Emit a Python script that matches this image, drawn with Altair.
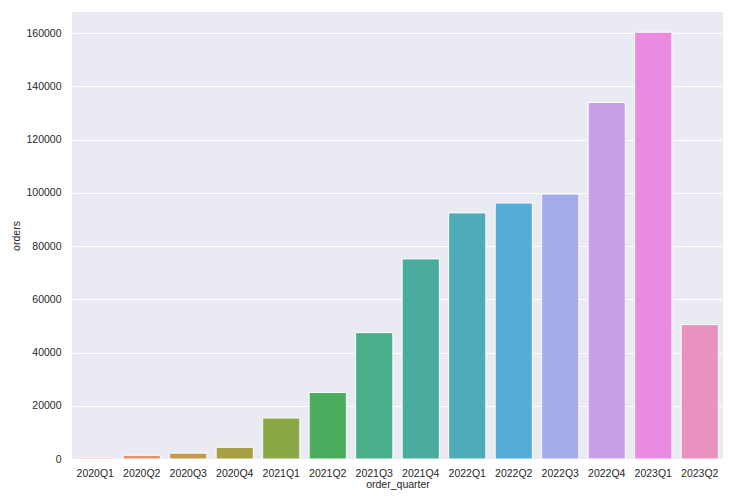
import altair as alt
import pandas as pd

quarters = ["2020Q1", "2020Q2", "2020Q3", "2020Q4", "2021Q1", "2021Q2", "2021Q3",
            "2021Q4", "2022Q1", "2022Q2", "2022Q3", "2022Q4", "2023Q1", "2023Q2"]
orders = [400, 1400, 2200, 4400, 15400, 25000, 47500,
          75200, 92500, 96200, 99600, 134000, 160400, 50500]
colors = ["#e68294", "#e0936c", "#c49a48", "#a89e43", "#8aa846", "#4bae5f", "#4aae8b",
          "#4aab9f", "#4eabb8", "#55acd6", "#a2ade9", "#c8a0e8", "#ea8ae0", "#e991bf"]

df = pd.DataFrame({"order_quarter": quarters, "orders": orders})

font = "Liberation Sans"
fs = 10.5

chart = alt.Chart(df).mark_bar(stroke="white", strokeWidth=1).encode(
    x=alt.X("order_quarter:N", sort=quarters,
            scale=alt.Scale(paddingInner=0.2, paddingOuter=0.1),
            axis=alt.Axis(title="order_quarter", labelAngle=0, ticks=False, domain=False,
                          grid=False, labelPadding=9, titleY=28.5, titleBaseline="alphabetic",
                          labelFontSize=fs, titleFontSize=fs, labelColor="#262626",
                          titleColor="#262626", titleFontWeight="normal", labelFont=font,
                          titleFont=font)),
    y=alt.Y("orders:Q", scale=alt.Scale(domain=[0, 168000], nice=False),
            axis=alt.Axis(title="orders", values=list(range(0, 160001, 20000)), format="d",
                          ticks=False, domain=False, grid=True, gridColor="white",
                          gridWidth=1, gridOpacity=1, labelPadding=11, titlePadding=4,
                          labelFontSize=fs, titleFontSize=fs, labelColor="#262626",
                          titleColor="#262626", titleFontWeight="normal", labelFont=font,
                          titleFont=font)),
    color=alt.Color("order_quarter:N", sort=quarters,
                    scale=alt.Scale(domain=quarters, range=colors), legend=None),
).properties(
    width=651, height=447,
    background="white",
    autosize=alt.AutoSizeParams(type="none"),
    padding={"left": 64, "top": 4, "right": 0, "bottom": 31},
).configure_view(
    fill="#EAEAF2", stroke=None
)

chart.save("out.html", embed_options={"renderer": "svg", "actions": False})
